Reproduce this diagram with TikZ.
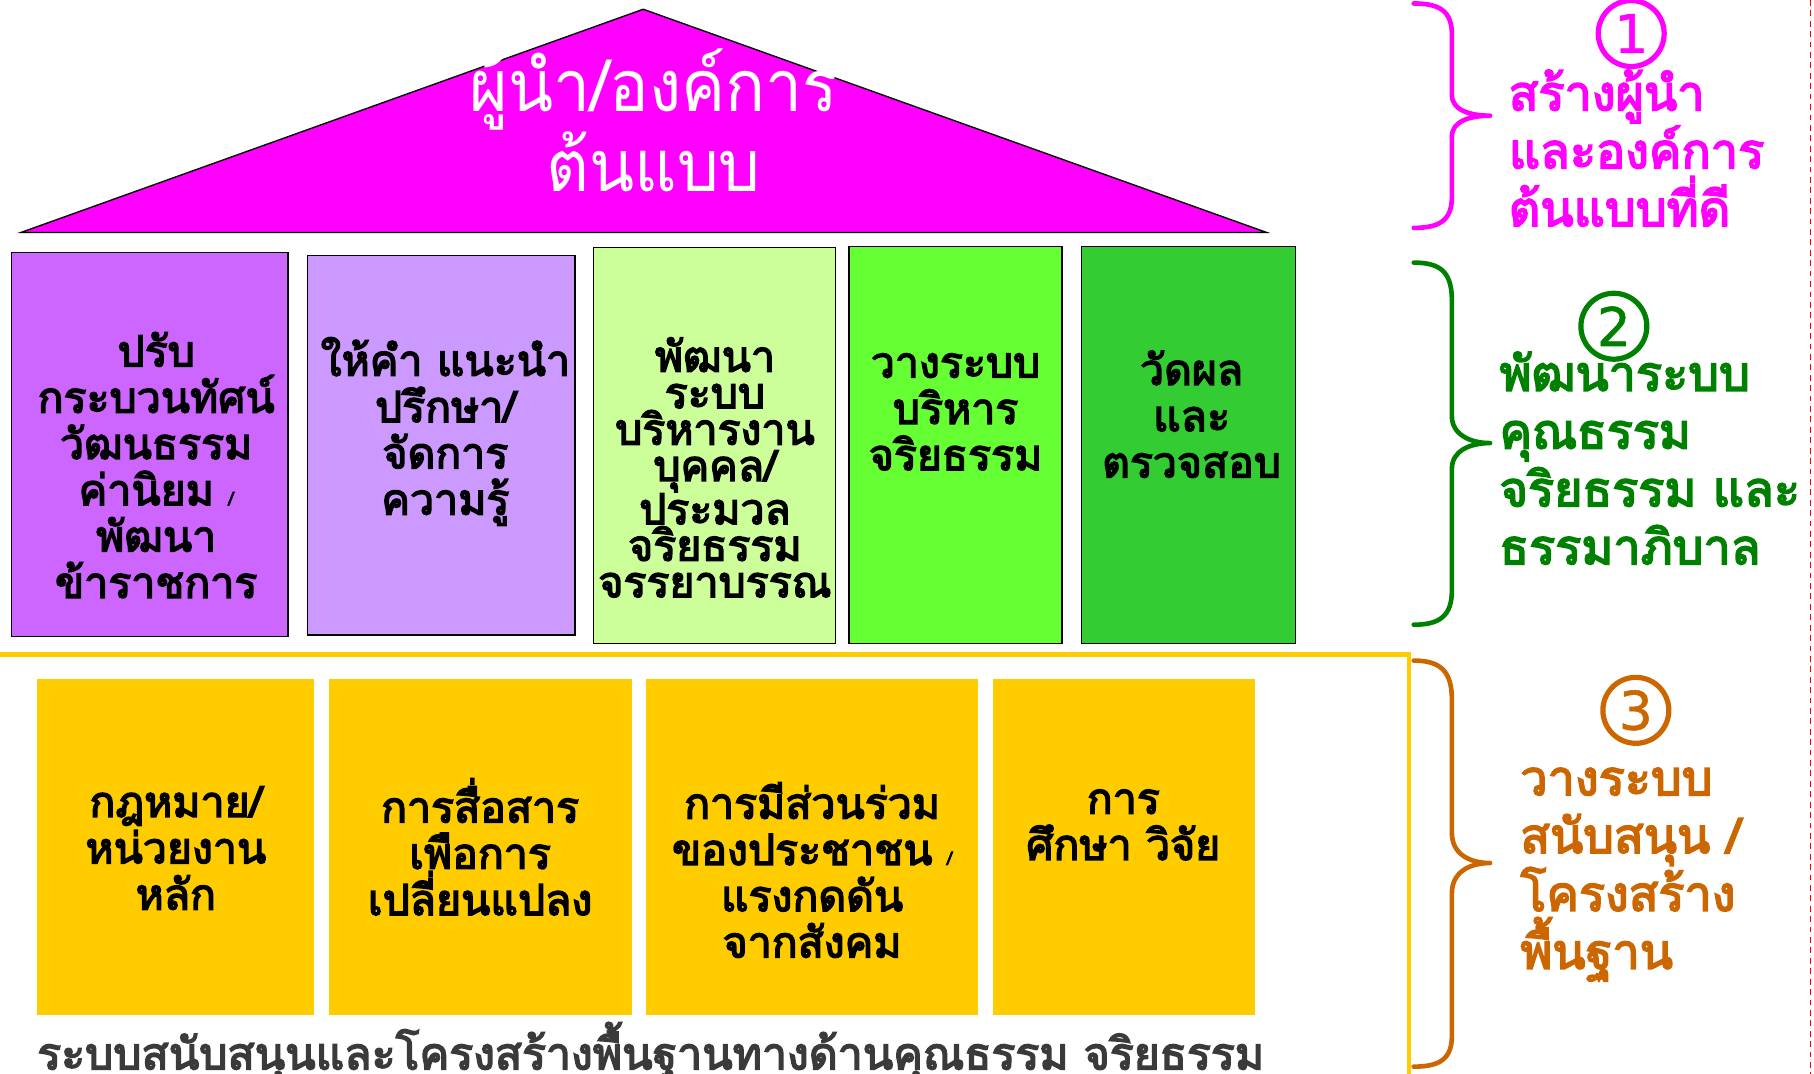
\documentclass[tikz,border=0pt]{standalone}
\usepackage{fontspec}
\newfontfamily\thai[Script=Thai]{Loma}
\newfontfamily\thaib[Script=Thai,FakeBold=3.5]{Loma}
\newfontfamily\numfont[FakeBold=1]{DejaVu Sans}
\definecolor{roofc}{HTML}{FF00FF}
\definecolor{pa}{HTML}{CC66FF}
\definecolor{pb}{HTML}{CC99FF}
\definecolor{pc}{HTML}{CCFF99}
\definecolor{pd}{HTML}{66FF33}
\definecolor{pe}{HTML}{33CC33}
\definecolor{ylw}{HTML}{FFCC00}
\definecolor{dgreen}{HTML}{008000}
\definecolor{orng}{HTML}{CC6600}
\definecolor{greytxt}{HTML}{3A3A3A}
\begin{document}
\begin{tikzpicture}[x=1pt,y=-1pt,
  pillar/.style={draw=black,line width=1.2pt},
  base/.style={fill=ylw,draw=none},
  btxt/.style={font=\thaib\fontsize{37}{40}\selectfont,align=center,text=black,inner sep=0pt},
  rtxt/.style={font=\thaib\fontsize{42}{50}\selectfont,align=left,anchor=west,inner sep=0pt},
  brace/.style={line width=4pt,line cap=round,line join=round},
  numc/.style={circle,line width=4.5pt,minimum size=57pt,inner sep=0pt,font=\numfont\fontsize{46}{46}\selectfont}]
\useasboundingbox (0,0) rectangle (1568,928);
% roof
\draw[fill=roofc,draw=black,line width=1.2pt] (556,8) -- (1095,201) -- (18,201) -- cycle;
\node[font=\thai\fontsize{62}{62}\selectfont,text=white,align=center,inner sep=0pt,xscale=0.92] (title) at (565,104) {ผู้นำ/องค์การ\\ต้นแบบ};
% pillars
\draw[pillar,fill=pa] (10,218) rectangle (249,550);
\draw[pillar,fill=pb] (266,221) rectangle (497,549);
\draw[pillar,fill=pc] (513,214) rectangle (722,556);
\draw[pillar,fill=pd] (734,213) rectangle (918,556);
\draw[pillar,fill=pe] (935,213) rectangle (1120,556);
\node[btxt] (p1) at (135,402) {ปรับ\\กระบวนทัศน์\\วัฒนธรรม\\ค่านิยม {\fontsize{16}{16}\selectfont /}\\พัฒนา\\ข้าราชการ};
\node[btxt] (p2) at (385,373) {ให้คำ แนะนำ\\ปรึกษา/\\จัดการ\\ความรู้};
\node[btxt,font=\thaib\fontsize{37}{31.5}\selectfont] (p3) at (618,404) {พัฒนา\\ระบบ\\บริหารงาน\\บุคคล/\\ประมวล\\จริยธรรม\\จรรยาบรรณ};
\node[btxt] (p4) at (826,356) {วางระบบ\\บริหาร\\จริยธรรม};
\node[btxt] (p5) at (1030,358) {วัดผล\\และ\\ตรวจสอบ};
% base frame
\draw[ylw,line width=4pt] (0,566) -- (1218,566) -- (1218,935);
\fill[base] (32,587) rectangle (271,877);
\fill[base] (284,587) rectangle (546,877);
\fill[base] (558,587) rectangle (845,877);
\fill[base] (858,587) rectangle (1085,877);
\node[btxt] (b1) at (152,733) {กฎหมาย/\\หน่วยงาน\\หลัก};
\node[btxt] (b2) at (415,732) {การสื่อสาร\\เพือการ\\เปลี่ยนแปลง};
\node[btxt] (b3) at (702,752) {การมีส่วนร่วม\\ของประชาชน {\fontsize{16}{16}\selectfont /}\\แรงกดดัน\\จากสังคม};
\node[btxt] (b4) at (971,713) {การ\\ศึกษา วิจัย};
\node[font=\thaib\fontsize{38.5}{40}\selectfont,text=greytxt,inner sep=0pt,anchor=west] (basetxt) at (32,909) {ระบบสนับสนุนและโครงสร้างพื้นฐานทางด้านคุณธรรม จริยธรรม};
% braces
\draw[brace,roofc] (1222,3) .. controls (1245,3) and (1255,10) .. (1255,30) -- (1255,82) .. controls (1255,95) and (1270,100) .. (1288,100) .. controls (1270,100) and (1255,105) .. (1255,118) -- (1255,170) .. controls (1255,190) and (1245,197) .. (1222,197);
\draw[brace,dgreen] (1222,227) .. controls (1245,227) and (1255,235) .. (1255,260) -- (1255,360) .. controls (1255,375) and (1270,383) .. (1288,383) .. controls (1270,383) and (1255,390) .. (1255,405) -- (1255,510) .. controls (1255,532) and (1245,540) .. (1222,540);
\draw[brace,orng] (1222,571) .. controls (1245,571) and (1255,580) .. (1255,605) -- (1255,720) .. controls (1255,738) and (1270,746) .. (1288,746) .. controls (1270,746) and (1255,754) .. (1255,772) -- (1255,895) .. controls (1255,915) and (1245,922) .. (1222,922);
% circled numbers
\node[numc,draw=roofc,text=roofc] (n1) at (1410,29) {1};
\node[numc,draw=dgreen,text=dgreen] (n2) at (1395,282) {2};
\node[numc,draw=orng,text=orng] (n3) at (1414,614) {3};
% right texts
\node[rtxt,text=roofc] (t1) at (1304,128) {สร้างผู้นำ\\และองค์การ\\ต้นแบบที่ดี};
\node[rtxt,text=dgreen] (t2) at (1296,396) {พัฒนาระบบ\\คุณธรรม\\จริยธรรม และ\\ธรรมาภิบาล};
\node[rtxt,text=orng] (t3) at (1314,756) {วางระบบ\\สนับสนุน /\\โครงสร้าง\\พื้นฐาน};
% red dashed line
\draw[red,line width=1.2pt,dash pattern=on 5pt off 4pt] (1565,0) -- (1565,928);
\end{tikzpicture}
\end{document}
